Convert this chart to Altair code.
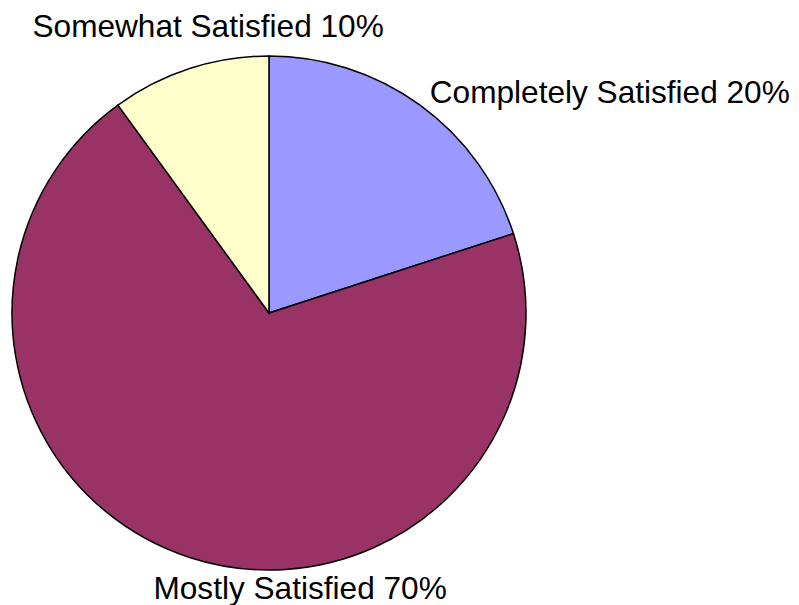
import altair as alt
import pandas as pd

categories = ["Completely Satisfied", "Mostly Satisfied", "Somewhat Satisfied"]
values = [20, 70, 10]
colors = ["#9999FF", "#993366", "#FFFFCC"]

df = pd.DataFrame({
    "category": categories,
    "value": values,
    "idx": list(range(len(categories))),
})
df["label"] = [f"{c} {v}%" for c, v in zip(categories, values)]

base = alt.Chart(df).encode(
    theta=alt.Theta("value:Q", stack=True, scale=alt.Scale(type="linear")),
    order=alt.Order("idx:Q"),
)

pie = base.mark_arc(outerRadius=257, stroke="black", strokeWidth=1.5).encode(
    color=alt.Color("category:N", scale=alt.Scale(domain=categories, range=colors), legend=None)
)

label_styles = {
    "Completely Satisfied": dict(radius=265, align="left", dx=5, dy=4),
    "Mostly Satisfied": dict(radius=265, align="center", dx=113, dy=34),
    "Somewhat Satisfied": dict(radius=265, align="center", dx=21, dy=-24),
}

layers = [pie]
for i, cat in enumerate(categories):
    st = label_styles[cat]
    field = f"lab{i}"
    t = base.transform_calculate(
        **{field: f"datum.category === '{cat}' ? datum.label : ''"}
    ).mark_text(
        font="Liberation Sans", fontSize=31.6, color="black", baseline="alphabetic", **st
    ).encode(text=alt.Text(f"{field}:N"))
    layers.append(t)

chart = alt.layer(*layers).properties(
    width=520,
    height=580,
    padding={"left": 1, "top": 15, "right": 262, "bottom": 2},
    autosize=alt.AutoSizeParams(type="none"),
).configure_view(stroke=None)

chart.save("out.html", embed_options={"renderer": "svg", "actions": False})
